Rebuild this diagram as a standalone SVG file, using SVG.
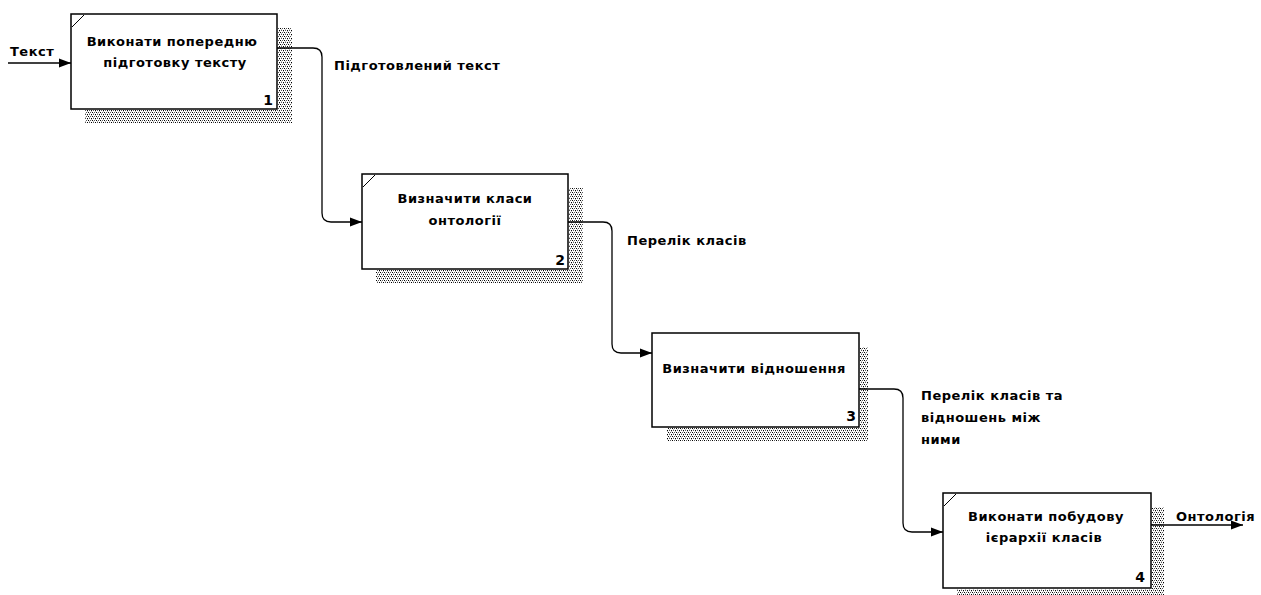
<svg xmlns="http://www.w3.org/2000/svg" width="1261" height="595" viewBox="0 0 1261 595">
<defs>
<pattern id="dots" width="4" height="4" patternUnits="userSpaceOnUse">
<rect x="0" y="0" width="1" height="1" fill="#000"/>
<rect x="2" y="0" width="1" height="1" fill="#555"/>
<rect x="1" y="2" width="1" height="1" fill="#555"/>
<rect x="3" y="2" width="1" height="1" fill="#000"/>
<rect x="1" y="1" width="1" height="1" fill="#bbb"/>
<rect x="3" y="3" width="1" height="1" fill="#bbb"/>
</pattern>
<marker id="arr" markerWidth="13" markerHeight="12" refX="12" refY="6" orient="auto" markerUnits="userSpaceOnUse">
<path d="M0,1.5 L12,6 L0,10.5 Z" fill="#000"/>
</marker>
<style>
.box{fill:#fff;stroke:#000;stroke-width:1.5}
.sh{fill:url(#dots)}
.t{font-family:"DejaVu Sans","Liberation Sans",Arial,sans-serif;font-weight:bold;font-size:13px;letter-spacing:0.5px;fill:#000}
.c{text-anchor:middle}
.n{text-anchor:end;font-size:14px;letter-spacing:0}
.ln{fill:none;stroke:#000;stroke-width:1.3}
.dg{stroke:#000;stroke-width:1}
</style>
</defs>
<rect width="1261" height="595" fill="#fff"/>
<g id="node1">
<rect class="sh" x="278" y="28" width="14" height="95"/>
<rect class="sh" x="85" y="110" width="207" height="13"/>
<rect class="box" x="71" y="14" width="206" height="95"/>
<line class="dg" x1="72" y1="27" x2="84" y2="15"/>
<text class="t c" x="172" y="46">Виконати попередню</text>
<text class="t c" x="175" y="67">підготовку тексту</text>
<text class="t n" x="273" y="105">1</text>
</g>
<g id="node2">
<rect class="sh" x="569" y="188" width="14" height="95"/>
<rect class="sh" x="376" y="270" width="207" height="13"/>
<rect class="box" x="362" y="174" width="206" height="95"/>
<line class="dg" x1="363" y1="187" x2="375" y2="175"/>
<text class="t c" x="465" y="203">Визначити класи</text>
<text class="t c" x="465" y="225">онтології</text>
<text class="t n" x="565" y="265">2</text>
</g>
<g id="node3">
<rect class="sh" x="860" y="347" width="8" height="94"/>
<rect class="sh" x="667" y="428" width="201" height="13"/>
<rect class="box" x="652" y="333" width="207" height="94"/>
<text class="t c" x="754" y="373">Визначити відношення</text>
<text class="t n" x="856" y="421">3</text>
</g>
<g id="node4">
<rect class="sh" x="1152" y="507" width="12" height="88"/>
<rect class="sh" x="957" y="589" width="207" height="6"/>
<rect class="box" x="943" y="493" width="208" height="95"/>
<line class="dg" x1="944" y1="506" x2="956" y2="494"/>
<text class="t c" x="1046" y="521">Виконати побудову</text>
<text class="t c" x="1044" y="542">ієрархії класів</text>
<text class="t n" x="1145" y="582">4</text>
</g>
<g id="connectors">
<path class="ln" d="M8,63 L71,63" marker-end="url(#arr)"/>
<path class="ln" d="M277,48 L313,48 Q322,48 322,57 L322,213 Q322,222 331,222 L362,222" marker-end="url(#arr)"/>
<path class="ln" d="M568,222 L603,222 Q612,222 612,231 L612,344 Q612,353 621,353 L652,353" marker-end="url(#arr)"/>
<path class="ln" d="M859,389 L894,389 Q903,389 903,398 L903,523 Q903,532 912,532 L943,532" marker-end="url(#arr)"/>
<path class="ln" d="M1151,525 L1243,525" marker-end="url(#arr)"/>
<text class="t" x="10" y="56">Текст</text>
<text class="t" x="334" y="70">Підготовлений текст</text>
<text class="t" x="627" y="245">Перелік класів</text>
<text class="t" x="921" y="400">Перелік класів та</text>
<text class="t" x="921" y="422">відношень між</text>
<text class="t" x="921" y="444">ними</text>
<text class="t" x="1176" y="521">Онтологія</text>
</g>
</svg>
